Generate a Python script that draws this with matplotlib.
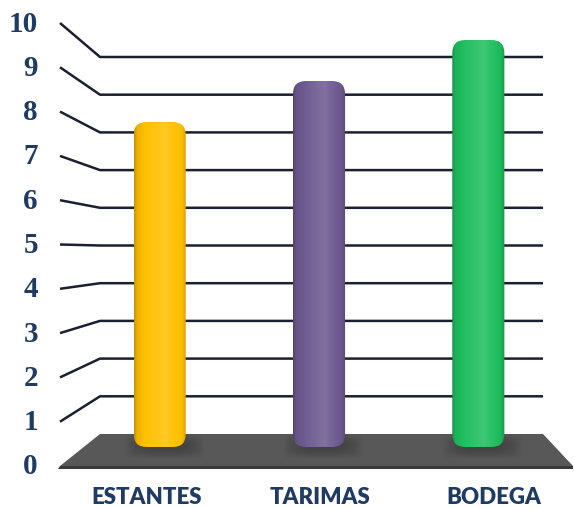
import numpy as np
import matplotlib.pyplot as plt
from matplotlib.patches import FancyBboxPatch, Polygon
from matplotlib.colors import to_rgb

# datos
categorias = ['ESTANTES', 'TARIMAS', 'BODEGA']
valores = [8, 9, 10]
colores = ['#FFC000', '#6E5A91', '#1FBE5E']
ticks = list(range(0, 11))

# caja 3D en pixeles: frente (d=0) y fondo (d=1)
def proj(u, v, d):
    x0 = 60 + 40 * d
    x1 = 573 - 30 * d
    y0 = 466 - 32 * d
    paso = 44.3 - 6.6 * d
    return x0 + u * (x1 - x0), y0 - v * paso

fig = plt.figure(figsize=(5.74, 5.08), dpi=100)
ax = fig.add_axes([0, 0, 1, 1])
ax.set_xlim(0, 574)
ax.set_ylim(508, 0)
ax.axis('off')

# lineas de division (pared izquierda + fondo)
for v in ticks[1:]:
    xa, ya = proj(0, v, 0)
    xb, yb = proj(0, v, 1)
    xc, yc = proj(1, v, 1)
    ax.plot([xa, xb, xc], [ya, yb, yc], color='#1b2030', lw=1.8, solid_capstyle='butt', zorder=1)

# etiquetas del eje
for v in ticks:
    x, y = proj(0, v, 0)
    ax.text(38, y + 1, str(v), ha='right', va='center', fontsize=21, fontweight='bold',
            family=['Liberation Serif', 'DejaVu Serif'], color='#1F3B63')

# piso
piso = [proj(0, 0, 0), proj(0, 0, 1), proj(1, 0, 1), proj(1, 0, 0)]
ax.add_patch(Polygon(piso, closed=True, facecolor='#585858', edgecolor='none', zorder=2))
fx0, fy0 = proj(0, 0, 0)
fx1, fy1 = proj(1, 0, 0)
ax.add_patch(Polygon([(fx0, fy0), (fx1, fy1), (fx1, fy1 + 3), (fx0 - 2, fy0 + 3)], closed=True,
                     facecolor='#3a3a3a', edgecolor='none', zorder=2))


def mezcla(color, s):
    c = np.array(to_rgb(color))
    if s >= 0:
        return c + (1 - c) * s
    return c * (1 + s)


ancho = 0.109
t = np.linspace(0, 1, 200)
perfil = np.interp(t, [0, 0.05, 0.2, 0.6, 0.7, 0.92, 1],
                   [-0.25, -0.08, 0, 0.14, 0.07, -0.03, -0.2])

for i, (cat, val, col) in enumerate(zip(categorias, valores, colores)):
    u = (i + 0.5) / 3
    xl, yb = proj(u - ancho / 2, 0, 0.5)
    xr, _ = proj(u + ancho / 2, 0, 0.5)
    _, yt = proj(u, val, 0.5)
    yb -= 3

    # sombra sobre el piso
    sx = np.linspace(-1, 1, 120)
    sy = np.linspace(-1, 1, 40)
    ax_, ay_ = np.meshgrid(sx, sy)
    alfa = np.clip((1 - np.abs(ax_) ** 3) * (1 - np.abs(ay_) ** 2), 0, 1) * 0.5
    sombra = np.zeros((40, 120, 4))
    sombra[..., :3] = 0.18
    sombra[..., 3] = alfa
    ax.imshow(sombra, extent=(xl - 10, xr + 18, yb + 12, yb - 14), zorder=3,
              interpolation='bilinear', aspect='auto')

    # cilindro con sombreado horizontal
    img = np.array([[mezcla(col, s) for s in perfil]])
    forma = FancyBboxPatch((xl, yt), xr - xl, yb - yt,
                           boxstyle='round,pad=0,rounding_size=13',
                           facecolor='none', edgecolor='none', zorder=4)
    ax.add_patch(forma)
    im = ax.imshow(img, extent=(xl, xr, yb, yt), zorder=4, aspect='auto',
                   interpolation='bilinear')
    im.set_clip_path(forma)

    # etiqueta de categoria
    ax.text(60 + 520 * u, 498, cat, ha='center', va='center', fontsize=16, fontweight='heavy',
            family=['Lato', 'DejaVu Sans'], color='#1F3B63')

ax.set_xlim(0, 574)
ax.set_ylim(508, 0)
fig.savefig('out.png', dpi=100)
